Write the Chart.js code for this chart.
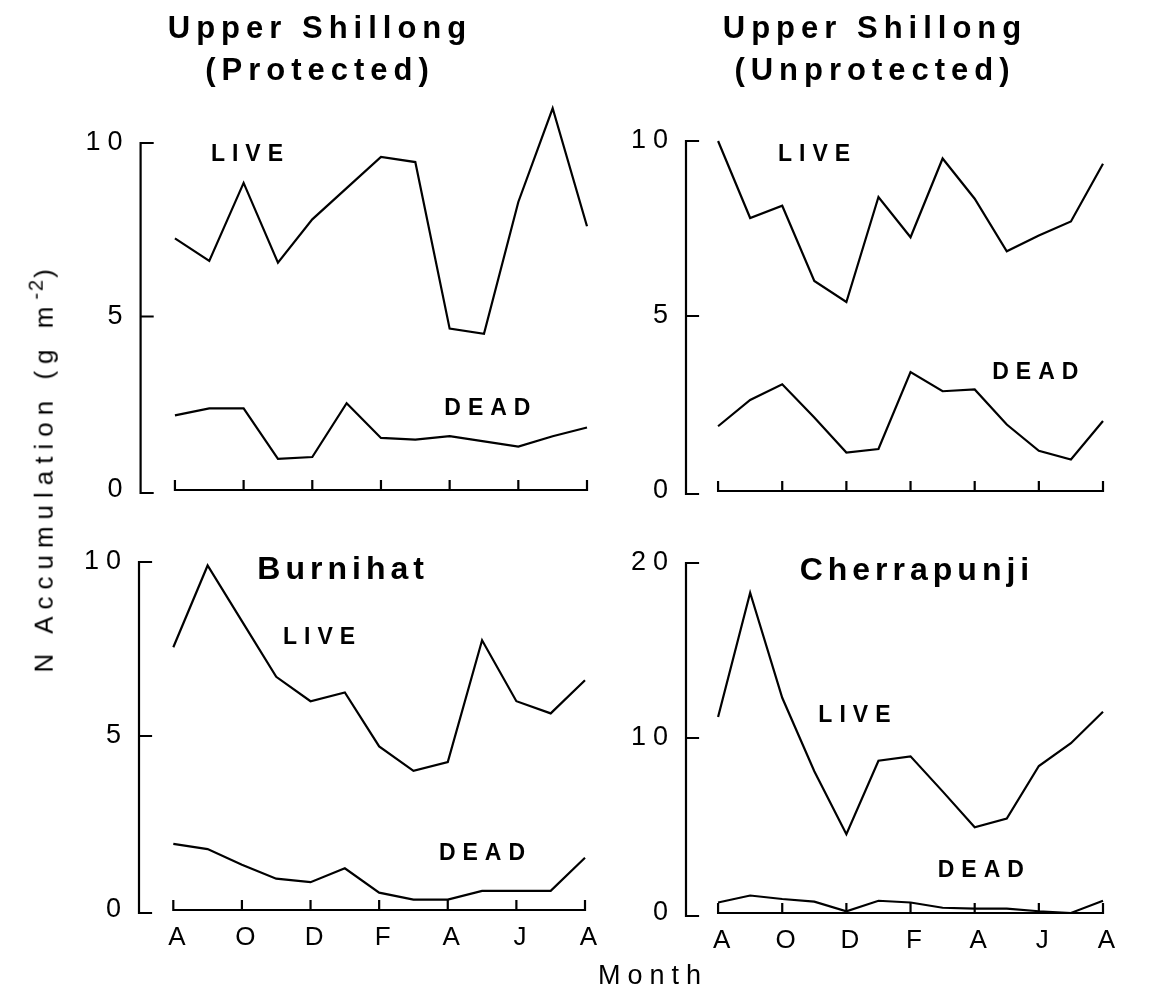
<!DOCTYPE html>
<html lang="en">
<head>
<meta charset="UTF-8">
<title>N Accumulation</title>
<script src="https://cdn.jsdelivr.net/npm/chart.js"></script>
<style>
    body { margin: 0; background: #fff; }
    #wrap { position: relative; width: 1151px; height: 994px; background: #fff; overflow: hidden; }
    #wrap canvas { position: absolute; left: 0; top: 0; }
    .txt {
        position: absolute;
        font-family: "Liberation Sans", Arial, sans-serif;
        color: #000;
        white-space: nowrap;
    }
    .title { font-size: 31px; font-weight: bold; letter-spacing: 6px; line-height: 42px; text-align: center; }
    #ytitle { font-size: 26px; letter-spacing: 7px; transform: rotate(-90deg); transform-origin: center; }
    #ytitle sup { font-size: 20px; letter-spacing: 2px; }
    #xtitle { font-size: 27px; letter-spacing: 7px; }
</style>
</head>
<body>
<div id="wrap">
    <canvas id="c1" width="1151" height="994"></canvas>
    <canvas id="c2" width="1151" height="994"></canvas>
    <canvas id="c3" width="1151" height="994"></canvas>
    <canvas id="c4" width="1151" height="994"></canvas>
    <div class="txt title" style="left:165px; top:7px; width:310px;">Upper Shillong<br>(Protected)</div>
    <div class="txt title" style="left:720px; top:7px; width:310px;">Upper Shillong<br>(Unprotected)</div>
    <div class="txt" id="ytitle" style="left:-168px; top:450px; width:420px; text-align:center;">N Accumulation (g m<sup>-2</sup>)</div>
    <div class="txt" id="xtitle" style="left:598px; top:960px;">Month</div>
</div>

<script>
    // months Aug .. Aug
    const months = ['Aug', 'Sep', 'Oct', 'Nov', 'Dec', 'Jan', 'Feb', 'Mar', 'Apr', 'May', 'Jun', 'Jul', 'Aug'];
    const tickIdx = [0, 2, 4, 6, 8, 10, 12];
    const tickLabels = ['A', 'O', 'D', 'F', 'A', 'J', 'A'];

    // Upper Shillong (Protected)
    const protLive = [7.25, 6.6, 8.85, 6.55, 7.8, 8.7, 9.6, 9.45, 4.65, 4.5, 8.3, 11.0, 7.6];
    const protDead = [2.15, 2.35, 2.35, 0.9, 0.95, 2.5, 1.5, 1.45, 1.55, 1.4, 1.25, 1.55, 1.8];
    // Upper Shillong (Unprotected)
    const unprotLive = [10.0, 7.8, 8.15, 6.0, 5.4, 8.4, 7.25, 9.5, 8.35, 6.85, 7.3, 7.7, 9.35];
    const unprotDead = [1.85, 2.6, 3.05, 2.1, 1.1, 1.2, 3.4, 2.85, 2.9, 1.9, 1.15, 0.9, 2.0];
    // Burnihat
    const burniLive = [7.55, 9.9, 8.3, 6.7, 6.0, 6.25, 4.7, 4.0, 4.25, 7.75, 6.0, 5.65, 6.6];
    const burniDead = [1.9, 1.75, 1.3, 0.9, 0.8, 1.2, 0.5, 0.3, 0.3, 0.55, 0.55, 0.55, 1.5];
    // Cherrapunji
    const cherraLive = [11.2, 18.3, 12.3, 8.1, 4.5, 8.7, 8.95, 6.95, 4.9, 5.4, 8.4, 9.7, 11.5];
    const cherraDead = [0.6, 1.0, 0.8, 0.65, 0.1, 0.7, 0.6, 0.3, 0.25, 0.25, 0.1, 0.0, 0.7];

    const FONT = '"Liberation Sans", Arial, sans-serif';
    const W = 1151, H = 994;
    const Y_BOX = 70, X_BOX = 60;

    // where each plot box sits on the page, plus the text written inside it
    const panels = [
        {id: 'c1', live: protLive, dead: protDead, yMax: 10, yStep: 5, showX: false,
            area: {left: 140.6, right: 587, top: 143, bottom: 490},
            notes: [{text: 'LIVE', x: 2.2, y: 9.65}, {text: 'DEAD', x: 9.2, y: 2.33}]},
        {id: 'c2', live: unprotLive, dead: unprotDead, yMax: 10, yStep: 5, showX: false,
            area: {left: 686, right: 1103, top: 141, bottom: 491},
            notes: [{text: 'LIVE', x: 3.1, y: 9.6}, {text: 'DEAD', x: 10.0, y: 3.37}]},
        {id: 'c3', live: burniLive, dead: burniDead, yMax: 10, yStep: 5, showX: true,
            area: {left: 139, right: 585, top: 562, bottom: 910},
            notes: [{text: 'Burnihat', x: 4.95, y: 9.77, big: true}, {text: 'LIVE', x: 4.35, y: 7.84}, {text: 'DEAD', x: 9.1, y: 1.61}]},
        {id: 'c4', live: cherraLive, dead: cherraDead, yMax: 20, yStep: 10, showX: true,
            area: {left: 686, right: 1103, top: 563, bottom: 913},
            notes: [{text: 'Cherrapunji', x: 6.2, y: 19.56, big: true}, {text: 'LIVE', x: 4.36, y: 11.28}, {text: 'DEAD', x: 8.3, y: 2.42}]}
    ];

    // axis lines drawn as in the paper: a bracket on the left, ticks pointing inwards
    const bracketAxes = {
        id: 'bracketAxes',
        beforeDraw(chart) {
            chart.ctx.letterSpacing = '7px';
        },
        afterDraw(chart) {
            const ctx = chart.ctx;
            const xs = chart.scales.x, ys = chart.scales.y;
            const a = chart.chartArea;
            ctx.save();
            ctx.letterSpacing = '0px';
            ctx.strokeStyle = '#000';
            ctx.lineWidth = 2.2;
            ctx.lineCap = 'square';
            // y bracket
            ctx.beginPath();
            ctx.moveTo(a.left, ys.getPixelForValue(ys.max));
            ctx.lineTo(a.left, a.bottom + 3);
            ys.ticks.forEach(t => {
                const py = t.value === 0 ? a.bottom + 3 : ys.getPixelForValue(t.value);
                ctx.moveTo(a.left, py);
                ctx.lineTo(a.left + 12, py);
            });
            ctx.stroke();
            // x axis
            ctx.beginPath();
            ctx.moveTo(xs.getPixelForValue(0), a.bottom);
            ctx.lineTo(xs.getPixelForValue(12), a.bottom);
            tickIdx.forEach(v => {
                const px = xs.getPixelForValue(v);
                ctx.moveTo(px, a.bottom);
                ctx.lineTo(px, a.bottom - 9);
            });
            ctx.stroke();
            // LIVE / DEAD / site names
            const notes = chart.options.plugins.bracketAxes.notes;
            ctx.fillStyle = '#000';
            ctx.textAlign = 'center';
            ctx.textBaseline = 'middle';
            notes.forEach(n => {
                if (n.big) {
                    ctx.font = 'bold 32px ' + FONT;
                    ctx.letterSpacing = '5px';
                } else {
                    ctx.font = 'bold 23px ' + FONT;
                    ctx.letterSpacing = '7px';
                }
                ctx.fillText(n.text, xs.getPixelForValue(n.x), ys.getPixelForValue(n.y));
            });
            ctx.restore();
        }
    };

    const charts = [];
    panels.forEach(p => {
        const ctx = document.getElementById(p.id).getContext('2d');
        const toPts = arr => arr.map((v, i) => ({x: i, y: v}));
        const chart = new Chart(ctx, {
            type: 'line',
            data: {
                labels: months,
                datasets: [
                    {label: 'LIVE', data: toPts(p.live), borderColor: '#000', borderWidth: 2.2, pointRadius: 0, tension: 0, clip: false},
                    {label: 'DEAD', data: toPts(p.dead), borderColor: '#000', borderWidth: 2.2, pointRadius: 0, tension: 0, clip: false}
                ]
            },
            options: {
                responsive: false,
                animation: false,
                events: [],
                layout: {
                    padding: {
                        left: p.area.left - Y_BOX,
                        right: W - p.area.right,
                        top: p.area.top,
                        bottom: H - p.area.bottom - X_BOX
                    }
                },
                plugins: {
                    legend: {display: false},
                    tooltip: {enabled: false},
                    bracketAxes: {notes: p.notes}
                },
                scales: {
                    x: {
                        type: 'linear',
                        min: -1,
                        max: 12,
                        grid: {display: false},
                        border: {display: false},
                        afterBuildTicks: s => { s.ticks = tickIdx.map(v => ({value: v})); },
                        afterFit: s => { s.height = X_BOX; },
                        ticks: {
                            display: p.showX,
                            padding: 4,
                            labelOffset: 7,
                            color: '#000',
                            font: {family: FONT, size: 26},
                            maxRotation: 0,
                            autoSkip: false,
                            callback: v => tickLabels[tickIdx.indexOf(v)]
                        }
                    },
                    y: {
                        min: 0,
                        max: p.yMax,
                        grid: {display: false},
                        border: {display: false},
                        afterFit: s => { s.width = Y_BOX; },
                        ticks: {
                            stepSize: p.yStep,
                            padding: 3,
                            color: '#000',
                            font: {family: FONT, size: 27}
                        }
                    }
                }
            },
            plugins: [bracketAxes]
        });
        charts.push(chart);
    });
</script>
</body>
</html>
